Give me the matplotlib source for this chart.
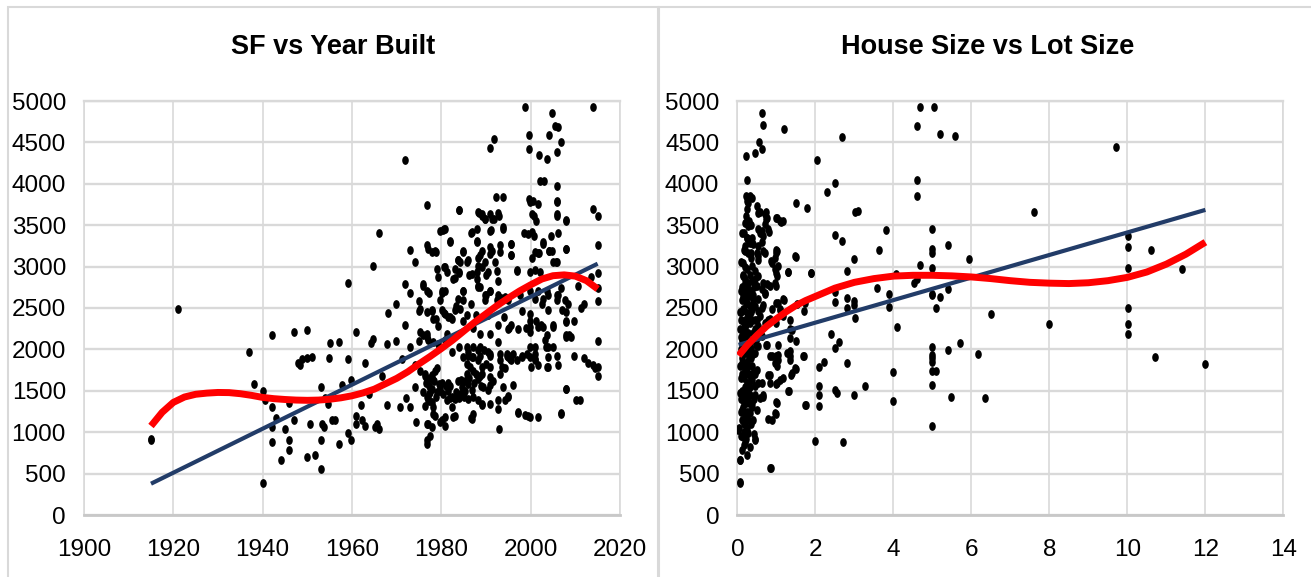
import matplotlib
matplotlib.use("Agg")
import matplotlib.pyplot as plt
from matplotlib.path import Path
from matplotlib.patches import Rectangle

plt.rcParams['font.family'] = ['Liberation Sans Narrow', 'Liberation Sans', 'DejaVu Sans']

# ---------------- data ----------------
titles = ["SF vs Year Built", "House Size vs Lot Size"]
year_ticks = [1900, 1920, 1940, 1960, 1980, 2000, 2020]
lot_ticks = [0, 2, 4, 6, 8, 10, 12, 14]
sf_ticks = [0, 500, 1000, 1500, 2000, 2500, 3000, 3500, 4000, 4500, 5000]

# (year built, square feet)
year_sf = [
    (1915, 900), (1915, 920), (1921, 2490), (1937, 1970), (1938, 1580), (1940, 390), (1940, 1493),
    (1940.5, 1390), (1942, 2178), (1942, 1300), (1942, 1060), (1943, 1170), (1942, 880), (1944, 660),
    (1945, 1035), (1946, 900), (1946, 790), (1946, 1350), (1947, 2210), (1947, 1150), (1948, 1835),
    (1948.4, 1810), (1948.8, 1880), (1950, 2240), (1950, 1900), (1951, 1910), (1950, 700), (1950.7, 1100),
    (1951.8, 725), (1953, 555), (1953, 900), (1953, 1545), (1953.3, 1100), (1953.7, 1060), (1953.9, 1410),
    (1954.7, 1345), (1954.9, 1900), (1955, 2080), (1955.6, 1150), (1956.2, 1150), (1957, 2090), (1957, 860),
    (1957.8, 1570), (1959, 2800), (1959, 1880), (1959, 990), (1959.8, 1635), (1959.8, 900), (1961, 2205),
    (1961, 1190), (1961, 1100), (1962, 1325), (1962.2, 1145), (1962.9, 1835), (1963, 1080), (1963.9, 1460),
    (1964.3, 2080), (1964.8, 3005), (1964.8, 2130), (1965.2, 1060), (1965.7, 1100), (1966, 3410),
    (1966, 1035), (1966.8, 1680), (1967.9, 1325), (1967.9, 2060), (1968, 2445), (1969.8, 2100),
    (1969.8, 2545), (1970.7, 1300), (1971.2, 1880), (1971.8, 4290), (1971.8, 2300), (1971.8, 2790),
    (1972.1, 1410), (1973, 3200), (1973, 2680), (1973, 2035), (1973, 1300), (1974, 3060), (1974, 1810),
    (1974, 1545), (1974.3, 1125), (1975, 2590), (1975, 2460), (1975, 2100), (1975.9, 2770), (1976.3, 1680),
    (1976.8, 3745), (1976.8, 2190), (1976.8, 900), (1976.8, 1100), (1977.1, 3210), (1977.3, 2680),
    (1977.3, 1460), (1977.8, 2460), (1978, 1370), (1978.2, 1635), (1978.2, 1215), (1978.5, 3190),
    (1978.7, 2370), (1979, 1770), (1979.2, 2280), (1979.2, 2880), (1979.6, 1500), (1979.6, 3435),
    (1980.1, 2680), (1980.1, 1145), (1980.6, 3455), (1980.6, 2990), (1980.6, 2435), (1980.9, 1080),
    (1981.2, 2190), (1981.5, 1590), (1982, 3300), (1982, 2390), (1982, 1410), (1982.5, 1970), (1983, 2860),
    (1983, 1190), (1983.2, 2525), (1983.7, 3080), (1983.9, 3680), (1983.9, 2925), (1983.9, 2035),
    (1983.9, 1410), (1984.4, 1635), (1984.8, 3190), (1984.8, 2700), (1984.8, 2345), (1985.3, 1500),
    (1985.8, 3060), (1986, 1925), (1986.2, 2900), (1986.7, 2545), (1986.7, 3410), (1986.7, 1170),
    (1987.2, 2255), (1987.7, 2415), (1988, 3455), (1988, 3300), (1988.1, 3660), (1988.1, 2770),
    (1988.6, 2190), (1988.6, 1680), (1988.6, 3145), (1989, 2990), (1989, 3635), (1989, 1325), (1989.5, 1990),
    (1989.7, 3570), (1990, 2660), (1990.5, 2415), (1990.8, 1570), (1991, 3435), (1991, 4435), (1991, 2700),
    (1991, 2190), (1991, 1945), (1991.4, 3190), (1991.9, 4545), (1991.9, 3570), (1992.2, 3835),
    (1992.4, 2945), (1992.6, 1390), (1992.8, 1035), (1992.8, 3610), (1993.1, 3255), (1993.3, 2615),
    (1993.8, 3835), (1993.8, 3455), (1994, 2390), (1994.2, 1770), (1994.7, 1945), (1995, 1435),
    (1995.2, 2255), (1995.7, 3275), (1995.7, 3145), (1996, 1570), (1996.1, 1945), (1996.9, 2945),
    (1997.1, 1235), (1997.6, 2660), (1998, 2460), (1998, 1925), (1998.5, 3410), (1998.8, 4925),
    (1999, 2255), (1999.4, 1190), (1999.7, 3815), (1999.7, 4590), (1999.7, 4415), (1999.9, 2035),
    (2000, 1790), (2000.2, 3100), (2000.3, 3635), (2000.6, 3790), (2000.8, 3370), (2001, 1880),
    (2001.3, 2345), (2001.3, 3545), (2001.8, 4345), (2001.8, 3170), (2002, 4035), (2002.3, 2300),
    (2002.5, 2545), (2002.8, 3275), (2003, 4035), (2003.5, 2035), (2003.7, 4300), (2003.7, 2700),
    (2003.7, 1790), (2003.9, 2480), (2004, 4590), (2004.2, 3190), (2004.6, 3370), (2004.8, 4860),
    (2004.9, 2300), (2005.4, 4700), (2005.6, 3060), (2005.8, 3970), (2005.8, 3790), (2005.8, 4390),
    (2005.9, 3635), (2006.1, 3410), (2006.1, 2660), (2006.1, 1810), (2006.1, 4680), (2006.9, 4500),
    (2006.9, 2745), (2006.9, 1235), (2007.1, 2480), (2007.8, 1525), (2008, 3545), (2008, 3210),
    (2008, 2345), (2008.4, 2545), (2008.6, 2170), (2009.1, 2145), (2009.8, 1925), (2009.8, 2345),
    (2010.1, 1390), (2010.7, 2770), (2011, 1390), (2011.2, 2500), (2011.9, 1900), (2012, 2545),
    (2012.9, 1835), (2013.6, 2880), (2013.9, 3700), (2013.9, 4925), (2014, 1810), (2014.5, 1770),
    (2015, 3610), (2015, 3255), (2015, 2925), (2015, 2745), (2015, 2590), (2015, 2100), (2015, 1680),
    (2015, 1790),
    (1983.9, 3678), (1988.5, 3645), (1989.2, 3617), (1990.9, 3641), (1991.3, 3580), (1992.7, 3645),
    (1989.8, 3577), (1999.8, 3778), (2001.6, 3752), (2000.8, 3610), (2005.8, 3617), (2005.8, 3778),
    (2007.8, 3557), (1980.4, 3436), (1980.8, 3456), (1981.9, 3307), (1986.8, 3416), (1987.9, 3307),
    (1991.1, 3436), (1993.9, 3476), (1995.7, 3275), (1999.3, 3388), (2000.2, 3416), (2001, 3174),
    (2001.7, 3162), (2002.8, 3295), (2004, 3194), (2004.7, 3194), (2007.8, 3215), (2005.8, 3053),
    (2005.1, 3053), (1976.7, 3255), (1977.8, 3174), (1978.9, 3174), (1984.9, 3174), (1989, 3194),
    (1991, 3234), (1991, 3154), (1993.1, 3174), (1995.7, 3146), (1983.8, 3074), (1984.2, 3053),
    (1986, 3074), (1988.3, 3106), (1988.3, 3013), (1989.8, 3053), (1992, 3053), (1979, 2973),
    (1980.8, 2993), (1981.2, 2932), (1983, 2973), (1984, 2932), (1982.7, 2852), (1986.8, 2913),
    (1987.9, 2932), (1987.9, 2852), (1990.1, 2893), (1990.5, 2932), (1992.7, 2832), (1996.9, 2953),
    (1999.8, 2932), (2001, 2953), (2002.1, 2932), (1976, 2792), (1976.7, 2711), (1980.1, 2711),
    (1980.8, 2711), (1979.7, 2591), (1984.9, 2711), (1983.8, 2611), (1984.9, 2591), (1988.3, 2751),
    (1988.6, 2751), (1989.8, 2651), (1989.8, 2591), (1990.9, 2711), (1992.4, 2591), (1992.7, 2651),
    (1994.2, 2631), (1995, 2591), (1999.8, 2711), (2001, 2611), (2001.7, 2711), (2002.8, 2611),
    (2003.9, 2651), (2005.8, 2651), (2005.8, 2591), (2007.7, 2591), (1975.2, 2490), (1976.7, 2450),
    (1977.8, 2470), (1978.2, 2370), (1980.1, 2470), (1980.8, 2430), (1981.6, 2390), (1982.3, 2370),
    (1983, 2470), (1984.2, 2490), (1985.7, 2410), (1992.7, 2289), (1995, 2249), (1995.7, 2289),
    (1997.2, 2249), (1999.8, 2430), (1999.8, 2349), (1999.8, 2268), (1999.8, 2208), (2001.7, 2268),
    (2002.8, 2268), (2003.6, 2168), (2005.1, 2268), (2007.8, 2450), (2007.8, 2329), (2008, 2168),
    (1975.2, 2208), (1976, 2168), (1976.7, 2147), (1977.1, 2108), (1978.2, 2087), (1979.3, 2067),
    (1980.8, 2108), (1985.7, 2027), (1986, 1966), (1986.8, 1906), (1987.1, 2027), (1988.3, 1987),
    (1988.6, 2027), (1988.6, 1926), (1990.5, 1966), (1990.9, 1926), (1992.7, 2087), (1993.1, 1946),
    (1994.6, 1926), (1995.7, 1926), (1998, 1906), (1999.1, 1946), (1999.8, 1906), (2001, 2027),
    (2001, 1946), (2001, 1866), (2001.7, 1806), (2003.2, 2108), (2003.9, 2027), (2003.9, 1906),
    (2003.9, 1785), (2005.1, 2027), (2005.8, 1926), (2008, 2147), (2008, 1524), (2006.9, 1222),
    (1975.2, 1745), (1976.3, 1705), (1976.7, 1624), (1977.8, 1685), (1978.6, 1745), (1976, 1483),
    (1977.5, 1483), (1979, 1483), (1977.1, 1383), (1976.3, 1322), (1978.2, 1302), (1980.4, 1463),
    (1981.2, 1383), (1982.3, 1423), (1980.8, 1181), (1979.7, 1121), (1977.8, 1060), (1982.7, 1181),
    (1983.8, 1624), (1984.6, 1544), (1984.2, 1463), (1986, 1584), (1986.8, 1504), (1987.1, 1423),
    (1988.3, 1383), (1989, 1343), (1989.4, 1544), (1990.5, 1504), (1990.9, 1664), (1991.6, 1624),
    (1993.1, 1705), (1993.9, 1544), (1994.2, 1383), (1995, 1423), (1995, 1906), (1995.7, 1866),
    (1996.9, 1866), (1986.8, 1162), (1987.1, 1222), (1990.9, 1343), (1992.7, 1283), (1997.2, 1242),
    (1998.7, 1202), (1999.8, 1181), (2001.7, 1181), (1987.1, 1745), (1984.9, 1906), (1985.7, 1826),
    (1986.4, 1785), (1987.1, 1906), (1988.3, 1866), (1989, 1785), (1990.1, 1826), (1990.9, 1785),
    (1993.1, 1866), (1993.5, 1785), (1995.4, 1886),
    (1976.5, 1600), (1977.2, 1560), (1977.5, 1650), (1978, 1520), (1978.3, 1620), (1979.4, 1580),
    (1979.8, 1530), (1976.8, 1420), (1977.3, 1380), (1978.7, 1430), (1980.2, 1600), (1981, 1560),
    (1981.6, 1500), (1982, 1560), (1983.2, 1480), (1984, 1420), (1984.8, 1480), (1985.3, 1620),
    (1985.7, 1700), (1986.3, 1660), (1987.4, 1600), (1987.8, 1700), (1988.3, 1640), (1988.8, 1560),
    (1989.2, 1700), (1985, 1430), (1986, 1400), (1983, 1400), (1982.5, 1300), (1978.5, 1200),
    (1977, 1100), (1977.4, 950), (1976.8, 860),
]

# (lot size, square feet)
lot_sf = [
    (0.62, 4857), (0.65, 4710), (1.19, 4657), (0.55, 4500), (0.63, 4420), (0.44, 4367), (0.21, 4331),
    (0.25, 4046), (2.03, 4287), (2.5, 4010), (2.29, 3900), (1.5, 3765), (1.79, 3707), (2.69, 4567),
    (3.02, 3654), (3.09, 3676), (2.5, 3387), (2.69, 3306), (3.81, 3440), (3.63, 3199), (2.99, 3097),
    (2.8, 2941), (2.5, 2696), (2.5, 2576), (2.8, 2620), (2.99, 2585), (2.99, 2540), (3.02, 2384),
    (2.8, 2495), (3.59, 2740), (3.89, 2674), (3.89, 2518), (4.09, 2273), (4.06, 2905), (2.39, 2183),
    (2.61, 2094), (2.5, 2014), (2.21, 1849), (2.09, 1791), (2.09, 1560), (2.09, 1448), (2.09, 1315),
    (1.75, 1328), (2.0, 891), (2.71, 878), (2.5, 1515), (2.56, 1479), (2.8, 1836), (2.99, 1448),
    (3.28, 1560), (4.0, 1729), (4.0, 1381), (4.6, 4046), (4.6, 3855), (4.6, 4701), (4.69, 4933),
    (5.03, 4933), (5.2, 4599), (5.59, 4581), (4.99, 3449), (4.99, 3208), (4.99, 3164), (4.99, 2986),
    (4.69, 3021), (4.52, 2807), (4.6, 2852), (4.99, 2674), (4.99, 2651), (5.2, 2629), (5.1, 2504),
    (5.4, 3262), (5.4, 2727), (5.93, 3092), (6.49, 2429), (4.99, 2027), (4.99, 1938), (4.99, 1894),
    (4.99, 1849), (4.99, 1738), (5.1, 1738), (4.99, 1569), (4.99, 1078), (5.4, 1996), (5.7, 2072),
    (5.48, 1426), (6.18, 1947), (6.34, 1413), (7.6, 3654), (8.0, 2308), (9.71, 4443), (10.01, 3364),
    (10.01, 3231), (10.01, 2986), (10.01, 2504), (10.01, 2308), (10.01, 2183), (10.6, 3199),
    (10.71, 1907), (11.4, 2977), (12.0, 1827),
    (0.86, 570), (0.06, 392), (0.06, 668), (0.44, 913), (0.42, 980), (0.78, 1159), (0.99, 1225),
    (0.99, 1359), (0.65, 1426), (0.84, 1693), (0.99, 1582), (1.16, 1649), (1.37, 1693), (1.5, 1769),
    (1.32, 1502), (1.02, 1805), (0.84, 1916), (0.99, 1916), (1.05, 1938), (1.34, 1916), (1.7, 1916),
    (1.34, 1983), (1.03, 2058), (0.73, 2058), (1.34, 2139), (1.5, 2103), (1.34, 2250), (1.7, 2460),
    (1.53, 2549), (1.08, 2473), (0.99, 2562), (1.19, 2593), (0.99, 2317), (0.84, 2362), (0.99, 2763),
    (0.99, 2919), (1.3, 2932), (1.05, 3008), (0.87, 3066), (0.98, 3164), (0.98, 3199), (1.5, 3119),
    (1.89, 2919), (0.99, 3587), (1.13, 3543), (0.73, 3663), (0.73, 3574), (0.8, 3422), (0.62, 3431),
    (0.62, 3297), (0.65, 3186), (0.52, 3075), (0.57, 3663), (0.38, 3832), (0.25, 3788), (0.35, 3498),
    (0.25, 3342), (0.35, 3164), (0.19, 3253), (0.46, 2852), (0.65, 2807), (0.7, 2674), (0.65, 2540),
    (0.57, 2406), (0.09, 2451), (0.16, 2317),
    (0.32, 3853), (0.28, 3774), (0.24, 3692), (0.49, 3732), (0.54, 3652), (0.71, 3632), (0.75, 3592),
    (1.01, 3592), (1.09, 3551), (1.18, 3551), (0.21, 3611), (0.19, 3531), (0.28, 3490), (0.18, 3410),
    (0.24, 3350), (0.54, 3450), (0.58, 3410), (0.71, 3511), (0.79, 3450), (0.66, 3369), (0.32, 3289),
    (0.41, 3269), (0.19, 3188), (0.28, 3168), (0.54, 3248), (0.49, 3168), (0.54, 3127), (0.71, 3168),
    (1.01, 3188), (0.96, 3107), (1.48, 3127), (0.15, 3047), (0.24, 2966), (0.15, 2885), (0.19, 2805),
    (0.28, 2724), (0.15, 2643), (0.24, 2563), (0.37, 3006), (0.45, 2946), (0.54, 2885), (0.37, 2825),
    (0.49, 2764), (0.62, 2724), (0.41, 2663), (0.54, 2603), (0.71, 2684), (0.32, 2522), (0.88, 3047),
    (0.96, 2966), (1.01, 2885), (0.96, 2805), (0.84, 2764), (0.75, 2785), (1.18, 2603), (1.3, 2933),
    (1.89, 2926), (0.15, 2482), (0.24, 2442), (0.37, 2482), (0.45, 2522), (0.54, 2461), (0.62, 2502),
    (0.19, 2361), (0.32, 2321), (0.45, 2361), (0.54, 2280), (0.71, 2321), (0.79, 2361), (0.88, 2482),
    (1.05, 2563), (1.09, 2482), (1.18, 2401), (1.35, 2361), (1.39, 2240), (1.73, 2563), (0.11, 2240),
    (0.19, 2159), (0.28, 2200), (0.37, 2119), (0.49, 2139), (0.62, 2159), (0.75, 2058), (0.15, 2079),
    (0.24, 1998), (0.32, 2038), (0.45, 1958), (0.54, 2038), (0.88, 1917), (0.96, 1836), (1.05, 1877),
    (1.26, 1958), (1.35, 1877), (1.69, 1917), (0.11, 1836), (0.19, 1755), (0.28, 1796), (0.41, 1715),
    (0.49, 1755), (0.15, 1674), (0.24, 1594), (0.37, 1634), (0.45, 1553), (0.54, 1594), (0.79, 1695),
    (0.84, 1594), (1.01, 1594), (1.09, 1634), (1.39, 1715), (1.48, 1776), (1.3, 1493), (0.07, 1473),
    (0.15, 1392), (0.28, 1432), (0.37, 1352), (0.45, 1453), (0.58, 1412), (0.66, 1453), (0.11, 1271),
    (0.19, 1190), (0.32, 1231), (0.41, 1150), (0.49, 1271), (1.01, 1352), (0.96, 1231), (0.88, 1150),
    (1.73, 1332), (0.62, 1594), (0.02, 1029), (0.15, 948), (0.28, 989), (0.19, 868), (0.32, 827),
    (0.45, 908), (0.11, 787), (0.24, 726), (0.07, 666), (0.84, 565), (0.07, 403),
    (0.12, 2600), (0.18, 2700), (0.22, 2550), (0.3, 2650), (0.26, 2800), (0.14, 2900), (0.2, 3000),
    (0.33, 2900), (0.1, 2350), (0.16, 2250), (0.23, 2300), (0.29, 2400), (0.35, 2450), (0.13, 2100),
    (0.21, 2050), (0.27, 1950), (0.34, 2000), (0.12, 1900), (0.17, 1800), (0.25, 1850), (0.31, 1700),
    (0.09, 1650), (0.2, 1550), (0.27, 1500), (0.33, 1450), (0.14, 1300), (0.22, 1350), (0.29, 1250),
    (0.18, 1100), (0.25, 1050), (0.12, 1500), (0.08, 2000), (0.06, 2450), (0.05, 1050), (0.4, 2600),
    (0.4, 2200), (0.38, 1800), (0.42, 1400), (0.36, 3100), (0.3, 3300), (0.16, 3200),
    (0.1, 3050), (0.13, 2750), (0.17, 2480), (0.21, 2650), (0.26, 2380), (0.3, 2100), (0.35, 1900),
    (0.1, 2150), (0.14, 1950), (0.18, 1650), (0.23, 1750), (0.28, 1600), (0.33, 1550), (0.38, 1300),
    (0.09, 1400), (0.13, 1150), (0.17, 1000), (0.22, 920), (0.27, 1150), (0.31, 1350), (0.36, 1650),
    (0.4, 1950), (0.44, 2250), (0.42, 2750), (0.38, 3350), (0.29, 3550), (0.23, 3850), (0.2, 2850),
    (0.25, 2200), (0.15, 2000), (0.19, 1450), (0.24, 1250), (0.12, 1700), (0.08, 1250), (0.06, 1800),
    (0.07, 2250), (0.09, 2700), (0.11, 3400), (0.34, 2700), (0.37, 2350), (0.31, 1900), (0.27, 1700),
    (0.22, 1150), (0.16, 850), (0.1, 950), (0.35, 1100), (0.45, 1700), (0.47, 2050), (0.5, 2350),
]

# linear trend lines (end points)
year_trend_x = [1915, 2015]
year_trend_y = [378, 3035]
lot_trend_x = [0.03, 12.0]
lot_trend_y = [2055, 3685]

# polynomial trend curves
year_poly_x = [1915, 1917.5, 1920, 1922.5, 1925, 1927.5, 1930, 1932.5, 1935, 1937.5, 1940, 1942.5,
               1945, 1947.5, 1950, 1952.5, 1955, 1957.5, 1960, 1962.5, 1965, 1967.5, 1970, 1972.5,
               1975, 1977.5, 1980, 1982.5, 1985, 1987.5, 1990, 1992.5, 1995, 1997.5, 2000, 2002.5,
               2005, 2007.5, 2010, 2012.5, 2015]
year_poly_y = [1075, 1240, 1360, 1425, 1458, 1472, 1480, 1478, 1465, 1445, 1420, 1405,
               1395, 1388, 1385, 1388, 1398, 1415, 1440, 1475, 1520, 1585, 1650, 1730,
               1825, 1915, 2010, 2110, 2220, 2330, 2430, 2530, 2620, 2705, 2780, 2850,
               2890, 2900, 2885, 2830, 2730]
lot_poly_x = [0.03, 0.25, 0.5, 0.75, 1.0, 1.25, 1.5, 1.75, 2.0, 2.5, 3.0, 3.5, 4.0, 4.5, 5.0, 5.5,
              6.0, 6.5, 7.0, 7.5, 8.0, 8.5, 9.0, 9.5, 10.0, 10.5, 11.0, 11.5, 12.0]
lot_poly_y = [1925, 2050, 2170, 2280, 2370, 2455, 2530, 2590, 2640, 2740, 2810, 2855, 2885, 2895,
              2895, 2888, 2875, 2855, 2830, 2810, 2800, 2795, 2805, 2830, 2870, 2935, 3030, 3150, 3295]

# ---------------- drawing ----------------
W, H = 1311, 577
fig = plt.figure(figsize=(W / 100, H / 100), dpi=100)

def fx(px):
    return px / W

def fy(py):
    return 1 - py / H

GRID = '#D9D9D9'
BLUE = '#223C68'
RED = '#FF0000'

circ = Path.unit_circle()
ell = Path(circ.vertices * [0.75, 1.0], circ.codes)

# chart-area borders
fig.patches.append(Rectangle((fx(8), fy(590)), fx(650), fy(7) - fy(590), transform=fig.transFigure,
                             fill=False, edgecolor=GRID, linewidth=1.5))
fig.patches.append(Rectangle((fx(659), fy(590)), fx(680), fy(7) - fy(590), transform=fig.transFigure,
                             fill=False, edgecolor=GRID, linewidth=1.5))

panels = [
    dict(box=(84, 620), data=year_sf, xt=year_ticks, tx=year_trend_x, ty=year_trend_y,
         px=year_poly_x, py=year_poly_y, title=titles[0], tcx=333),
    dict(box=(737.4, 1283.4), data=lot_sf, xt=lot_ticks, tx=lot_trend_x, ty=lot_trend_y,
         px=lot_poly_x, py=lot_poly_y, title=titles[1], tcx=988),
]

for p in panels:
    x0, x1 = p['box']
    ytop, ybot = 101, 515
    ax = fig.add_axes([fx(x0), fy(ybot), fx(x1) - fx(x0), fy(ytop) - fy(ybot)])
    xs = [d[0] for d in p['data']]
    ys = [d[1] for d in p['data']]
    ax.scatter(xs, ys, s=40, marker=ell, c='black', linewidths=0, zorder=3)
    ax.plot(p['tx'], p['ty'], color=BLUE, lw=3.0, solid_capstyle='butt', zorder=4)
    ax.plot(p['px'], p['py'], color=RED, lw=5.0, solid_capstyle='butt', solid_joinstyle='round', zorder=5)
    ax.set_xlim(p['xt'][0], p['xt'][-1])
    ax.set_ylim(sf_ticks[0], sf_ticks[-1])
    ax.set_xticks(p['xt'])
    ax.set_yticks(sf_ticks)
    ax.set_xticklabels([str(t) for t in p['xt']])
    ax.set_yticklabels([str(t) for t in sf_ticks])
    ax.set_axisbelow(True)
    ax.grid(axis='y', color=GRID, lw=1.7)
    ax.grid(axis='x', color=GRID, lw=1.2)
    for s in ['top', 'left', 'right']:
        ax.spines[s].set_color(GRID)
    ax.spines['top'].set_linewidth(1.7)
    ax.spines['left'].set_linewidth(1.2)
    ax.spines['right'].set_linewidth(1.2)
    ax.spines['bottom'].set_color('#C8C8C8')
    ax.spines['bottom'].set_linewidth(2.0)
    ax.tick_params(axis='both', length=0, labelsize=17.5, colors='black')
    ax.tick_params(axis='x', pad=17)
    ax.tick_params(axis='y', pad=13)
    fig.text(fx(p['tcx']), fy(47), p['title'], ha='center', va='center', fontsize=19.5,
             fontweight='bold')

fig.savefig('out.png', dpi=100)
